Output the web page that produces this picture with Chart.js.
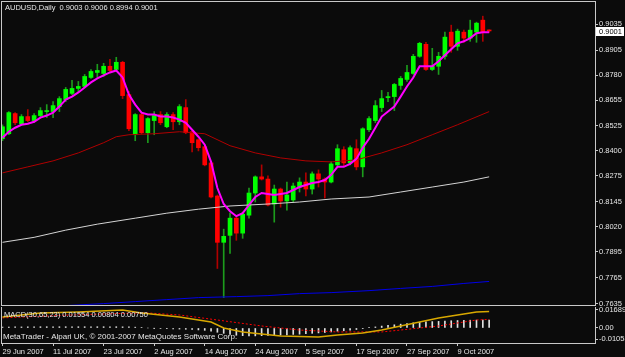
<!DOCTYPE html>
<html><head><meta charset="utf-8">
<script src="https://cdn.jsdelivr.net/npm/chart.js@4.4.0/dist/chart.umd.min.js"></script>
<style>
html,body{margin:0;padding:0;background:#0b0b0b;}
#wrap{position:relative;width:625px;height:357px;background:#0b0b0b;overflow:hidden;}
canvas{position:absolute;left:0;}
</style></head><body>
<div id="wrap">
<canvas id="main" width="625" height="307" style="top:0"></canvas>
<canvas id="macd" width="625" height="50" style="top:307px"></canvas>
</div>
<script>
// ---------- data ----------
const symbolTitle = "AUDUSD,Daily  0.9003 0.9006 0.8994 0.9001";
const dateTickIdx = [0, 8, 16, 24, 32, 40, 48, 56, 64, 72];
const dateTickLabels = ["29 Jun 2007","11 Jul 2007","23 Jul 2007","2 Aug 2007","14 Aug 2007","24 Aug 2007","5 Sep 2007","17 Sep 2007","27 Sep 2007","9 Oct 2007"];
const priceTicks = [0.9035,0.8905,0.8780,0.8655,0.8525,0.8400,0.8275,0.8145,0.8020,0.7895,0.7765,0.7635];

const open = [0.8461,0.8486,0.8587,0.8536,0.8572,0.8552,0.8577,0.8597,0.8597,0.8622,
 0.8657,0.8688,0.8713,0.8723,0.8768,0.8793,0.8788,0.8824,0.8808,0.8844,
 0.8682,0.8481,0.8582,0.8491,0.8552,0.8582,0.8521,0.8582,0.8546,0.8617,
 0.8496,0.8456,0.8421,0.8340,0.8174,0.7942,0.7977,0.8063,0.7988,0.8078,
 0.8189,0.8270,0.8259,0.8134,0.8209,0.8149,0.8154,0.8219,0.8244,0.8209,
 0.8285,0.8259,0.8244,0.8330,0.8406,0.8340,0.8411,0.8320,0.8506,0.8552,
 0.8617,0.8667,0.8672,0.8728,0.8758,0.8788,0.8874,0.8934,0.8808,0.8824,
 0.8874,0.8995,0.8924,0.8995,0.8965,0.8995,0.9055,0.9003];
const high = [0.8531,0.8597,0.8592,0.8582,0.8607,0.8587,0.8617,0.8632,0.8647,0.8672,
 0.8718,0.8753,0.8748,0.8783,0.8808,0.8834,0.8839,0.8859,0.8869,0.8849,
 0.8698,0.8587,0.8592,0.8567,0.8597,0.8597,0.8592,0.8592,0.8632,0.8657,
 0.8501,0.8461,0.8426,0.8345,0.8179,0.8008,0.8088,0.8073,0.8093,0.8214,
 0.8275,0.8330,0.8275,0.8229,0.8214,0.8244,0.8239,0.8265,0.8290,0.8295,
 0.8305,0.8265,0.8345,0.8431,0.8421,0.8426,0.8456,0.8516,0.8572,0.8652,
 0.8703,0.8693,0.8738,0.8773,0.8829,0.8884,0.8944,0.8944,0.8914,0.8894,
 0.8995,0.9030,0.9010,0.9005,0.9055,0.9045,0.9075,0.9006];
const low = [0.8451,0.8481,0.8531,0.8531,0.8546,0.8541,0.8567,0.8567,0.8567,0.8597,
 0.8647,0.8682,0.8698,0.8718,0.8763,0.8768,0.8773,0.8798,0.8798,0.8662,
 0.8501,0.8451,0.8486,0.8441,0.8481,0.8531,0.8516,0.8506,0.8531,0.8486,
 0.8395,0.8400,0.8325,0.8164,0.7811,0.7665,0.7887,0.7952,0.7962,0.8063,
 0.8144,0.8254,0.8124,0.8043,0.8118,0.8103,0.8144,0.8194,0.8174,0.8184,
 0.8219,0.8164,0.8239,0.8325,0.8325,0.8330,0.8305,0.8270,0.8496,0.8541,
 0.8597,0.8647,0.8602,0.8708,0.8748,0.8783,0.8869,0.8803,0.8803,0.8783,
 0.8859,0.8894,0.8904,0.8944,0.8949,0.8944,0.8949,0.8994];
const close = [0.8521,0.8592,0.8541,0.8572,0.8552,0.8577,0.8602,0.8602,0.8627,0.8662,
 0.8708,0.8713,0.8723,0.8773,0.8798,0.8803,0.8824,0.8803,0.8844,0.8677,
 0.8511,0.8582,0.8491,0.8562,0.8577,0.8541,0.8582,0.8546,0.8622,0.8491,
 0.8441,0.8416,0.8330,0.8169,0.7942,0.7972,0.8063,0.7988,0.8083,0.8189,
 0.8270,0.8259,0.8129,0.8209,0.8149,0.8179,0.8224,0.8244,0.8209,0.8285,
 0.8259,0.8244,0.8335,0.8411,0.8340,0.8416,0.8320,0.8511,0.8562,0.8627,
 0.8662,0.8672,0.8733,0.8763,0.8793,0.8874,0.8939,0.8808,0.8824,0.8874,
 0.8970,0.8924,0.9000,0.8965,0.9005,0.9040,0.8995,0.9001];

// fast moving average (magenta), one value per bar
const maFast = [0.8466,0.8496,0.8516,0.8531,0.8536,0.8546,0.8567,0.8577,0.8592,0.8622,
 0.8657,0.8672,0.8693,0.8718,0.8743,0.8763,0.8778,0.8793,0.8803,0.8768,
 0.8682,0.8632,0.8592,0.8582,0.8582,0.8572,0.8572,0.8567,0.8557,0.8541,
 0.8506,0.8471,0.8431,0.8345,0.8214,0.8134,0.8098,0.8073,0.8088,0.8129,
 0.8169,0.8189,0.8184,0.8179,0.8184,0.8189,0.8204,0.8219,0.8229,0.8239,
 0.8244,0.8254,0.8280,0.8320,0.8320,0.8335,0.8360,0.8416,0.8461,0.8516,
 0.8572,0.8597,0.8622,0.8672,0.8723,0.8768,0.8824,0.8824,0.8824,0.8849,
 0.8879,0.8909,0.8939,0.8949,0.8965,0.8990,0.8995,0.8995];

// slower moving averages, read at selected bars
const maRedIdx = [0,4,8,12,16,18,20,24,28,32,36,40,44,48,52,56,60,64,68,72,77];
const maRedVal = [0.8290,0.8320,0.8350,0.8390,0.8441,0.8471,0.8481,0.8486,0.8496,0.8486,0.8426,0.8390,0.8365,0.8350,0.8345,0.8355,0.8390,0.8431,0.8481,0.8531,0.8597];
const maWhiteIdx = [0,5,10,15,21,26,31,36,42,47,52,58,63,68,73,77];
const maWhiteVal = [0.7942,0.7967,0.8003,0.8033,0.8063,0.8088,0.8108,0.8124,0.8134,0.8144,0.8159,0.8169,0.8194,0.8219,0.8244,0.8270];
const maBlueIdx = [0,10,16,21,26,31,37,42,47,52,58,63,68,73,77];
const maBlueVal = [0.7602,0.7625,0.7635,0.7645,0.7655,0.7665,0.7670,0.7675,0.7685,0.7690,0.7700,0.7711,0.7721,0.7736,0.7746];

// MACD(30,65,23)
const macdLabel = "MACD(30,65,23) 0.01554 0.00804 0.00750";
const macdTicks = [0.01689, 0, -0.01058];
const macdTickLabels = ["0.01689", "0.00", "-0.01058"];
const macdIdx = [0,6,12,19,22,28,33,35,38,44,50,53,57,60,63,66,69,72,75,77];
const macdVal = [0.0103,0.0141,0.0150,0.0169,0.0141,0.0103,0.0056,0.0000,-0.0037,-0.0075,-0.0084,-0.0066,-0.0047,-0.0019,0.0019,0.0056,0.0094,0.0122,0.0150,0.01554];
const signalIdx = [0,10,18,23,28,34,41,47,53,60,63,69,75,77];
const signalVal = [0.0095,0.0120,0.0135,0.0141,0.0122,0.0075,0.0019,-0.0019,-0.0037,-0.0037,-0.0019,0.0019,0.0075,0.00804];
const histVal = [0.0008,0.0009,0.0010,0.0010,0.0011,0.0011,0.0012,0.0012,0.0012,0.0012,
 0.0012,0.0012,0.0012,0.0012,0.0012,0.0012,0.0012,0.0012,0.0012,0.0011,
 0.0010,0.0008,0.0004,0.0000,-0.0002,-0.0004,-0.0006,-0.0008,-0.0010,-0.0012,
 -0.0014,-0.0018,-0.0022,-0.0030,-0.0040,-0.0050,-0.0060,-0.0068,-0.0072,-0.0074,
 -0.0074,-0.0072,-0.0070,-0.0068,-0.0066,-0.0064,-0.0060,-0.0058,-0.0054,-0.0050,
 -0.0046,-0.0042,-0.0036,-0.0030,-0.0026,-0.0020,-0.0014,-0.0006,0.0002,0.0010,
 0.0018,0.0024,0.0030,0.0036,0.0042,0.0048,0.0054,0.0058,0.0060,0.0062,
 0.0066,0.0068,0.0070,0.0072,0.0073,0.0074,0.0075,0.0075];
const copyright = "MetaTrader - Alpari UK, \u00A9 2001-2007 MetaQuotes Software Corp.";

// ---------- styling ----------
const FONT = '"Liberation Sans", Arial, sans-serif';
const FG = '#e6e6e6';
const FRAME = '#c8c8c8';
const X_MIN = -0.08, X_MAX = 93.75;

const pts = (idx, vals) => idx.map((x, k) => ({x, y: vals[k]}));
const bull = close.map((c, i) => c >= open[i]);

function fixWidth(w) {
  return function(scale) { scale.width = w; scale.paddingTop = 0; scale.paddingBottom = 0; };
}

const framePlugin = {
  id: 'frame',
  afterDraw(chart, args, opts) {
    const {ctx, chartArea: a} = chart;
    ctx.save();
    ctx.strokeStyle = FRAME;
    ctx.lineWidth = 1;
    ctx.strokeRect(a.left - 0.5, a.top - 0.5, a.right - a.left + 1, a.bottom - a.top + 1);
    ctx.fillStyle = FG;
    ctx.textBaseline = 'middle';
    ctx.textAlign = 'left';
    (opts.texts || []).forEach(t => { ctx.font = (t.size || 7.5) + 'px ' + FONT; ctx.fillText(t.text, t.x, t.y); });
    if (opts.priceBox) {
      const y = chart.scales.y.getPixelForValue(opts.priceBox.value);
      ctx.font = '7.5px ' + FONT;
      ctx.fillStyle = '#ffffff';
      ctx.fillRect(a.right + 1, Math.round(y) - 4, 28, 9);
      ctx.fillStyle = '#000000';
      ctx.fillText(opts.priceBox.text, a.right + 4, Math.round(y) + 0.5);
    }
    ctx.restore();
  }
};

Chart.defaults.animation = false;
Chart.defaults.font.family = FONT;
Chart.defaults.font.size = 7.5;
Chart.defaults.color = FG;

new Chart(document.getElementById('main'), {
  type: 'bar',
  data: {
    datasets: [
      {type: 'line', data: maFast.map((v, i) => ({x: i, y: v})), borderColor: '#ff00ff', borderWidth: 2, pointRadius: 0, tension: 0, order: 0},
      {type: 'line', data: pts(maRedIdx, maRedVal), borderColor: '#b00000', borderWidth: 1, pointRadius: 0, tension: 0, order: 0},
      {type: 'line', data: pts(maWhiteIdx, maWhiteVal), borderColor: '#d4d4d4', borderWidth: 1, pointRadius: 0, tension: 0, order: 0},
      {type: 'line', data: pts(maBlueIdx, maBlueVal), borderColor: '#0000e8', borderWidth: 1, pointRadius: 0, tension: 0, order: 0},
      {data: open.map((o, i) => ({x: i, y: [o, close[i]]})), backgroundColor: bull.map(b => b ? '#00ff00' : '#ff0000'),
       barThickness: 4, grouped: false, minBarLength: 1, borderWidth: 0, order: 2},
      {data: low.map((l, i) => ({x: i, y: [l, high[i]]})), backgroundColor: bull.map(b => b ? '#1c9c1c' : '#b00000'),
       barThickness: 1, grouped: false, borderWidth: 0, order: 3}
    ]
  },
  options: {
    responsive: false,
    layout: {padding: {left: 2, top: 2, right: 0, bottom: 2}},
    plugins: {legend: {display: false}, tooltip: {enabled: false},
      frame: {texts: [{text: symbolTitle, x: 5, y: 8}], priceBox: {value: close[close.length - 1], text: '0.9001'}}},
    scales: {
      x: {type: 'linear', min: X_MIN, max: X_MAX, offset: false, grid: {offset: false}, display: false},
      y: {position: 'right', min: 0.7628, max: 0.9146,
        afterBuildTicks: s => { s.ticks = priceTicks.map(v => ({value: v})); },
        afterFit: fixWidth(30),
        ticks: {padding: 1, color: FG, font: {size: 7.5}, callback: v => v.toFixed(4)},
        grid: {drawOnChartArea: false, drawTicks: true, tickLength: 3, color: FRAME},
        border: {display: false}}
    }
  },
  plugins: [framePlugin]
});

new Chart(document.getElementById('macd'), {
  type: 'bar',
  data: {
    datasets: [
      {type: 'line', data: pts(macdIdx, macdVal), borderColor: '#d8a800', borderWidth: 1.5, pointRadius: 0, tension: 0, order: 0},
      {type: 'line', data: pts(signalIdx, signalVal), borderColor: '#ff0000', borderWidth: 1, borderDash: [2, 2], pointRadius: 0, tension: 0, order: 1},
      {data: histVal.map((v, i) => ({x: i, y: v})), backgroundColor: '#e0e0e0', barThickness: 1, grouped: false, order: 2}
    ]
  },
  options: {
    responsive: false,
    layout: {padding: {left: 2, top: 0, right: 0, bottom: 0}},
    plugins: {legend: {display: false}, tooltip: {enabled: false},
      frame: {texts: [{text: macdLabel, x: 4, y: 8}, {text: copyright, x: 3, y: 30, size: 8}]}},
    scales: {
      x: {type: 'linear', min: X_MIN, max: X_MAX, offset: false,
        afterBuildTicks: s => { s.ticks = dateTickIdx.map(v => ({value: v})); },
        afterFit: s => { s.height = 14; s.paddingLeft = 0; s.paddingRight = 0; },
        ticks: {autoSkip: false, maxRotation: 0, align: 'start', padding: 1, color: FG, font: {size: 7.5},
          callback: v => dateTickLabels[dateTickIdx.indexOf(v)]},
        grid: {offset: false, drawOnChartArea: false, drawTicks: true, tickLength: 3, color: FRAME},
        border: {display: false}},
      y: {position: 'right', min: -0.01406, max: 0.01968,
        afterBuildTicks: s => { s.ticks = macdTicks.map(v => ({value: v})); },
        afterFit: fixWidth(30),
        ticks: {padding: 1, color: FG, font: {size: 7.5}, callback: v => macdTickLabels[macdTicks.indexOf(v)]},
        grid: {drawOnChartArea: false, drawTicks: true, tickLength: 3, color: FRAME},
        border: {display: false}}
    }
  },
  plugins: [framePlugin]
});
</script>
</body></html>
